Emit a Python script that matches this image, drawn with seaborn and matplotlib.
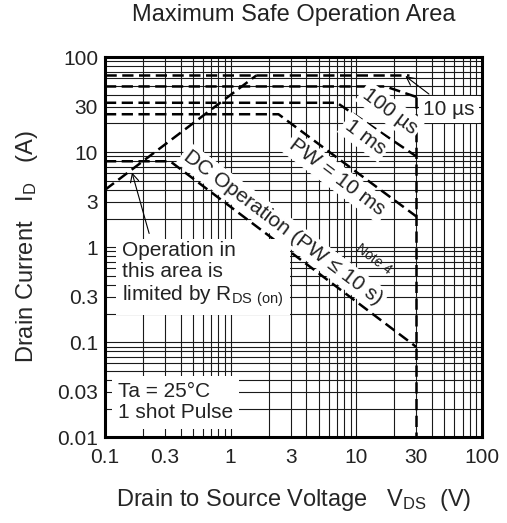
import pandas as pd
import matplotlib
matplotlib.use('Agg')
import matplotlib.pyplot as plt
from matplotlib.ticker import FixedLocator, FixedFormatter, LogLocator, NullFormatter
import seaborn as sns

# boundary curves (V_DS in V, I_D in A)
rds_v = [0.1, 1.6]
rds_i = [4.0, 64.0]
pw10us_v = [0.1, 26.0]
pw10us_i = [64.0, 64.0]
pw100us_v = [0.1, 17.0, 30.0]
pw100us_i = [49.0, 49.0, 38.0]
pw1ms_v = [0.1, 7.0, 30.0]
pw1ms_i = [33.0, 33.0, 9.0]
pw10ms_v = [0.1, 2.4, 30.0]
pw10ms_i = [25.0, 25.0, 2.1]
dc_v = [0.1, 0.33, 30.0]
dc_i = [8.0, 8.0, 0.089]
vdss_v = [30.0, 30.0]
vdss_i = [38.0, 0.01]

x_ticks = [0.1, 0.3, 1, 3, 10, 30, 100]
x_labels = ['0.1', '0.3', '1', '3', '10', '30', '100']
y_ticks = [0.01, 0.03, 0.1, 0.3, 1, 3, 10, 30, 100]
y_labels = ['0.01', '0.03', '0.1', '0.3', '1', '3', '10', '30', '100']

curves = {
    'rds': (rds_v, rds_i),
    '10us': (pw10us_v, pw10us_i),
    '100us': (pw100us_v, pw100us_i),
    '1ms': (pw1ms_v, pw1ms_i),
    '10ms': (pw10ms_v, pw10ms_i),
    'dc': (dc_v, dc_i),
    'vdss': (vdss_v, vdss_i),
}
rows = []
for name, (vs, cs) in curves.items():
    for k, (v, c) in enumerate(zip(vs, cs)):
        rows.append({'curve': name, 'step': k, 'V': v, 'I': c})
df = pd.DataFrame(rows)

sns.set_theme(style='white')
plt.rcParams['font.family'] = ['Liberation Sans', 'DejaVu Sans']
plt.rcParams['mathtext.default'] = 'regular'
plt.rcParams['text.color'] = '#222222'

fig = plt.figure(figsize=(5.07, 5.23), dpi=100)
ax = fig.add_axes([0.207, 0.164, 0.744, 0.727])

sns.lineplot(data=df, x='V', y='I', style='curve', units='curve', estimator=None,
             sort=False, color='black', lw=1.8, legend=False, ax=ax,
             dashes={name: (4.5, 2.2) for name in curves}, zorder=2)

ax.set_xscale('log')
ax.set_yscale('log')
ax.set_xlim(0.1, 100)
ax.set_ylim(0.01, 100)
ax.xaxis.set_major_locator(FixedLocator(x_ticks))
ax.xaxis.set_major_formatter(FixedFormatter(x_labels))
ax.yaxis.set_major_locator(FixedLocator(y_ticks))
ax.yaxis.set_major_formatter(FixedFormatter(y_labels))
ax.xaxis.set_minor_locator(LogLocator(base=10, subs=range(2, 10)))
ax.yaxis.set_minor_locator(LogLocator(base=10, subs=range(2, 10)))
ax.xaxis.set_minor_formatter(NullFormatter())
ax.yaxis.set_minor_formatter(NullFormatter())
ax.grid(which='both', color='#1a1a1a', lw=0.8, zorder=0)
ax.tick_params(which='major', direction='in', length=5, width=1, labelsize=15,
               colors='black', labelcolor='#222222')
ax.tick_params(axis='x', which='major', pad=8)
ax.tick_params(axis='y', which='major', pad=5)
ax.tick_params(which='minor', length=0)
for s in ax.spines.values():
    s.set_linewidth(2.2)
    s.set_color('black')

ax.set_xlabel(r'Drain to Source Voltage   $V_{DS}$  (V)', fontsize=17, labelpad=14)
ax.set_ylabel(r'Drain Current   $I_D$   (A)', fontsize=17, labelpad=12)
ax.set_title('Maximum Safe Operation Area', fontsize=17, pad=26)

box = dict(boxstyle='square,pad=0.15', fc='white', ec='none')
ax.text(2.61, 1.60, 'DC Operation (PW \u2264 10 s)', fontsize=15, rotation=-37,
        rotation_mode='anchor', ha='center', va='center', bbox=box, zorder=3)
ax.text(13.8, 0.755, 'Note 4', fontsize=10, rotation=-37, rotation_mode='anchor',
        ha='center', va='center', zorder=3)
ax.text(7.0, 5.4, 'PW = 10 ms', fontsize=15, rotation=-37, rotation_mode='anchor',
        ha='center', va='center', bbox=box, zorder=3)
ax.text(11.7, 14.3, '1 ms', fontsize=15, rotation=-37, rotation_mode='anchor',
        ha='center', va='center', bbox=box, zorder=3)
ax.text(18.5, 26.8, '100 \u00b5s', fontsize=15, rotation=-37, rotation_mode='anchor',
        ha='center', va='center', bbox=box, zorder=3)

ax.annotate('10 \u00b5s', xy=(24.5, 63), xytext=(54.6, 28.1), fontsize=15,
            ha='center', va='center', bbox=dict(boxstyle='square,pad=0.2', fc='white', ec='none'),
            arrowprops=dict(arrowstyle='->', color='black', lw=0.8, shrinkA=2, shrinkB=0),
            zorder=3)

ax.annotate('Operation in\nthis area is\nlimited by R$_{DS\\ (on)}$', xy=(0.164, 6.1),
            xytext=(0.137, 0.51), fontsize=15, ha='left', va='center', linespacing=1.15,
            bbox=dict(boxstyle='square,pad=0.3', fc='white', ec='none'),
            arrowprops=dict(arrowstyle='->', color='black', lw=0.8, shrinkA=4, shrinkB=0,
                            relpos=(0.18, 1.0)),
            zorder=3)

ax.text(0.127, 0.0234, 'Ta = 25\u00b0C\n1 shot Pulse', fontsize=15, ha='left', va='center',
        linespacing=1.15, bbox=dict(boxstyle='square,pad=0.3', fc='white', ec='none'), zorder=3)

fig.savefig('out.png', dpi=100)
